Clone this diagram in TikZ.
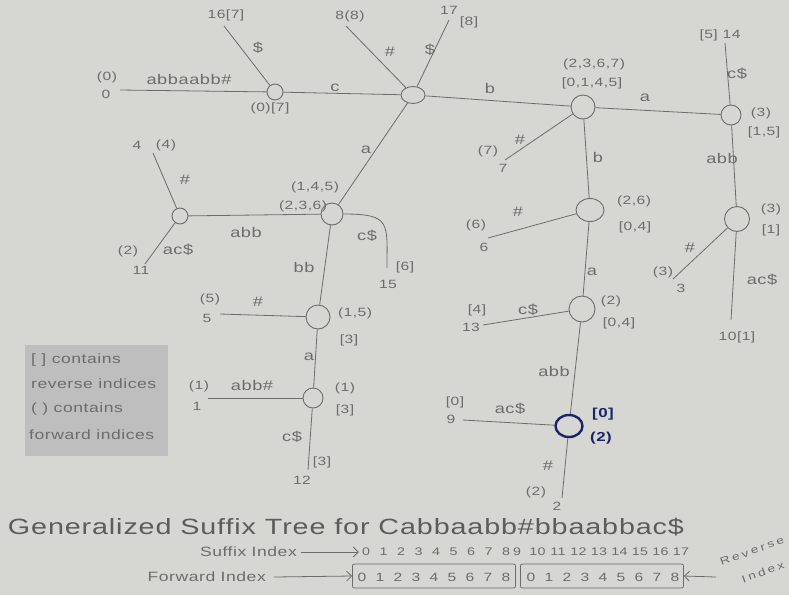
\documentclass[tikz,border=0pt]{standalone}
\usepackage{fontspec}
\setmainfont{Liberation Sans}[LetterSpace=4, FakeStretch=1.3]
\usetikzlibrary{shapes.geometric,arrows.meta}
\definecolor{paper}{RGB}{214,214,211}
\definecolor{ink}{RGB}{108,108,108}
\definecolor{legendgray}{RGB}{190,190,190}
\definecolor{blueink}{RGB}{28,36,105}
\newcommand\smallfs{\fontsize{12}{13}\selectfont}
\newcommand\edgefs{\fontsize{14}{15}\selectfont}
\newcommand\legfs{\fontsize{13.5}{15}\selectfont}
\newcommand\revfs{\fontsize{10.5}{12}\selectfont\addfontfeatures{LetterSpace=26}}
\begin{document}
\begin{tikzpicture}[x=1pt,y=-1pt,
  inode/.style={draw=ink, circle, inner sep=0pt, line width=0.9pt},
  conn/.style={draw=ink, line width=0.8pt},
  lbl/.style={text=ink, inner sep=0pt, font=\smallfs},
  elbl/.style={text=ink, inner sep=0pt, font=\edgefs},
  bluelbl/.style={text=blueink, inner sep=0pt, font=\fontsize{13}{14}\selectfont\bfseries},
  legtext/.style={text=ink, inner sep=0pt, font=\legfs, anchor=west},
  idxtext/.style={text=ink, inner sep=0pt, font=\fontsize{13.5}{15}\selectfont, anchor=east},
  digit/.style={text=ink, inner sep=0pt, font=\fontsize{11}{12}\selectfont},
  revtext/.style={text=ink, inner sep=0pt, font=\revfs, rotate=20}]
\fill[paper] (0,0) rectangle (789,595);
\useasboundingbox (0,0) rectangle (789,595);

% internal nodes
\node[inode, minimum size=16pt] (A) at (275,92) {};
\node[inode, ellipse, minimum width=24pt, minimum height=17pt] (R) at (413,95) {};
\node[inode, minimum size=24pt] (B) at (583,107) {};
\node[inode, minimum size=20pt] (C) at (731,115) {};
\node[inode, minimum size=16pt] (D) at (180,216) {};
\node[inode, minimum size=22pt] (E) at (332,214) {};
\node[inode, ellipse, minimum width=28pt, minimum height=23pt] (F) at (590,210) {};
\node[inode, minimum size=25pt] (G) at (737,219) {};
\node[inode, minimum size=24pt] (H) at (318,317) {};
\node[inode, minimum size=20pt] (I) at (313,398) {};
\node[inode, minimum size=26pt] (J) at (582,309) {};
\node[inode, ellipse, draw=blueink, line width=2.4pt, minimum width=27pt, minimum height=22pt] (K) at (569,426) {};

% leaf end points
\coordinate (l0) at (120,90);
\coordinate (l16) at (224,26);
\coordinate (l8) at (346,26);
\coordinate (l17) at (449,20);
\coordinate (l14) at (725,43);
\coordinate (l7) at (505,160);
\coordinate (l6) at (488,238);
\coordinate (l3) at (673,279);
\coordinate (l10) at (731,320);
\coordinate (l13) at (483,325);
\coordinate (l9) at (463,420);
\coordinate (l2) at (562,498);
\coordinate (l4) at (153,153);
\coordinate (l11) at (145,264);
\coordinate (l15) at (387,268);
\coordinate (l5) at (220,314);
\coordinate (l1) at (208,398);
\coordinate (l12) at (308,470);

% internal edges
\draw[conn] (A) -- (R);
\draw[conn] (R) -- (B);
\draw[conn] (B) -- (C);
\draw[conn] (R) -- (E);
\draw[conn] (E) -- (D);
\draw[conn] (E) -- (H);
\draw[conn] (H) -- (I);
\draw[conn] (B) -- (F);
\draw[conn] (F) -- (J);
\draw[conn] (J) -- (K);
\draw[conn] (C) -- (G);

% leaf edges
\draw[conn] (l0) -- (A);
\draw[conn] (l16) -- (A);
\draw[conn] (l8) -- (R);
\draw[conn] (l17) -- (R);
\draw[conn] (l14) -- (C);
\draw[conn] (l7) -- (B);
\draw[conn] (l6) -- (F);
\draw[conn] (l3) -- (G);
\draw[conn] (l10) -- (G);
\draw[conn] (l13) -- (J);
\draw[conn] (l9) -- (K);
\draw[conn] (l2) -- (K);
\draw[conn] (l4) -- (D);
\draw[conn] (l11) -- (D);
\draw[conn] (E.east) .. controls +(48,0) and +(0,-45) .. (l15);
\draw[conn] (l5) -- (H);
\draw[conn] (l1) -- (I);
\draw[conn] (l12) -- (I);

% labels: top
\node[lbl] (t0a) at (107,77) {(0)};
\node[lbl] (t0b) at (106,94) {0};
\node[elbl] (e0) at (189,79) {abbaabb\#};
\node[lbl] (t16) at (226,15) {16[7]};
\node[elbl] (e16) at (258,48) {\$};
\node[lbl] (tA) at (270,108) {(0)[7]};
\node[elbl] (eAR) at (335,88) {c};
\node[lbl] (t8) at (350,16) {8(8)};
\node[elbl] (e8) at (390,52) {\#};
\node[elbl] (e17) at (430,50) {\$};
\node[lbl] (t17a) at (449,10) {17};
\node[lbl] (t17b) at (469,22) {[8]};
\node[elbl] (eRB) at (490,88) {b};
\node[lbl] (tB1) at (594,64) {(2,3,6,7)};
\node[lbl] (tB2) at (592,83) {[0,1,4,5]};
\node[elbl] (eBC) at (645,98) {a};
\node[lbl] (t14) at (720,35) {[5] 14};
\node[elbl] (e14) at (737,74) {c\$};
\node[lbl] (tC1) at (761,113) {(3)};
\node[lbl] (tC2) at (764,132) {[1,5]};
\node[lbl] (t7a) at (488,151) {(7)};
\node[elbl] (e7) at (520,140) {\#};
\node[lbl] (t7b) at (503,168) {7};
\node[elbl] (eBF) at (598,157) {b};
\node[elbl] (eCG) at (722,158) {abb};

% right middle
\node[lbl] (t6a) at (476,225) {(6)};
\node[lbl] (t6b) at (484,247) {6};
\node[elbl] (e6) at (518,212) {\#};
\node[lbl] (tF1) at (634,201) {(2,6)};
\node[lbl] (tF2) at (635,227) {[0,4]};
\node[elbl] (eFJ) at (592,272) {a};
\node[lbl] (tG1) at (771,209) {(3)};
\node[lbl] (tG2) at (771,230) {[1]};
\node[elbl] (e3) at (690,248) {\#};
\node[lbl] (t3a) at (663,272) {(3)};
\node[lbl] (t3b) at (681,288) {3};
\node[elbl] (e10) at (762,280) {ac\$};
\node[lbl] (t10) at (737,337) {10[1]};
\node[lbl] (t13a) at (477,310) {[4]};
\node[elbl] (e13) at (528,310) {c\$};
\node[lbl] (t13b) at (471,327) {13};
\node[lbl] (tJ1) at (611,301) {(2)};
\node[lbl] (tJ2) at (619,323) {[0,4]};
\node[elbl] (eJK) at (554,371) {abb};
\node[lbl] (t9a) at (455,402) {[0]};
\node[lbl] (t9b) at (451,419) {9};
\node[elbl] (e9) at (510,409) {ac\$};
\node[bluelbl] (tK1) at (603,414) {[0]};
\node[bluelbl] (tK2) at (601,438) {(2)};
\node[elbl] (e2) at (548,466) {\#};
\node[lbl] (t2a) at (536,492) {(2)};
\node[lbl] (t2b) at (557,506) {2};

% left middle
\node[lbl] (t4a) at (137,145) {4};
\node[lbl] (t4b) at (166,145) {(4)};
\node[elbl] (e4) at (185,180) {\#};
\node[lbl] (t11a) at (128,251) {(2)};
\node[lbl] (t11b) at (141,270) {11};
\node[elbl] (e11) at (178,250) {ac\$};
\node[elbl] (eRE) at (366,150) {a};
\node[lbl] (tE1) at (315,187) {(1,4,5)};
\node[lbl] (tE2) at (303,206) {(2,3,6)};
\node[elbl] (eED) at (246,232) {abb};
\node[elbl] (e15) at (367,236) {c\$};
\node[lbl] (t15a) at (405,267) {[6]};
\node[lbl] (t15b) at (388,284) {15};
\node[elbl] (eEH) at (304,267) {bb};
\node[lbl] (t5a) at (210,299) {(5)};
\node[lbl] (t5b) at (207,318) {5};
\node[elbl] (e5) at (258,302) {\#};
\node[lbl] (tH1) at (355,313) {(1,5)};
\node[lbl] (tH2) at (349,340) {[3]};
\node[elbl] (eHI) at (309,357) {a};
\node[lbl] (t1a) at (199,386) {(1)};
\node[elbl] (e1) at (252,385) {abb\#};
\node[lbl] (t1b) at (197,406) {1};
\node[lbl] (tI1) at (345,388) {(1)};
\node[lbl] (tI2) at (345,410) {[3]};
\node[elbl] (e12) at (292,437) {c\$};
\node[lbl] (t12a) at (322,462) {[3]};
\node[lbl] (t12b) at (302,480) {12};

% legend
\node[fill=legendgray, minimum width=143pt, minimum height=111pt, inner sep=0pt] (legend) at (96.5,400.5) {};
\node[legtext] (lg1) at (31,360) {[ ] contains};
\node[legtext] (lg2) at (31,384) {reverse indices};
\node[legtext] (lg3) at (31,409) {( ) contains};
\node[legtext] (lg4) at (29,435) {forward indices};

% bottom title and index rows
\node[text=ink!85!black, inner sep=0pt] (title) at (346,527) {\resizebox{676pt}{!}{Generalized Suffix Tree for Cabbaabb\#bbaabbac\$}};
\node[idxtext] (suffl) at (297,552) {Suffix Index};
\foreach \d [count=\i] in {0,1,2,3,4,5,6,7,8}
  \node[digit] (sa\i) at ({366+17.5*(\i-1)},552) {\d};
\foreach \d [count=\i] in {9,10,11,12,13,14,15,16,17}
  \node[digit] (sb\i) at ({517+20.5*(\i-1)},552) {\d};
\draw[conn, -{Straight Barb[length=5pt]}] (suffl.east) ++(4,0) coordinate (sarrow) -- ([xshift=-3pt]sa1.west);
\node[idxtext] (fwdl) at (266,577) {Forward Index};
\node[draw=ink, line width=0.8pt, rounded corners=2pt, minimum width=163pt, minimum height=24pt, inner sep=0pt] (box1) at (434,576) {};
\node[draw=ink, line width=0.8pt, rounded corners=2pt, minimum width=163pt, minimum height=24pt, inner sep=0pt] (box2) at (602,576) {};
\foreach \d [count=\i] in {0,1,2,3,4,5,6,7,8}
  \node[lbl] (fa\i) at ({362+18*(\i-1)},577) {\d};
\foreach \d [count=\i] in {0,1,2,3,4,5,6,7,8}
  \node[lbl] (fb\i) at ({531+18*(\i-1)},577) {\d};
\draw[conn, -{Straight Barb[length=5pt]}] (fwdl.east) ++(8,0) coordinate (farrow) -- (box1.west);
\coordinate (rarrow) at (716,577);
\draw[conn, -{Straight Barb[length=5pt]}] (rarrow) -- (box2.east);
\node[revtext] (revl1) at (752,551) {Reverse};
\node[revtext] (revl2) at (763,572) {Index};
\end{tikzpicture}
\end{document}
